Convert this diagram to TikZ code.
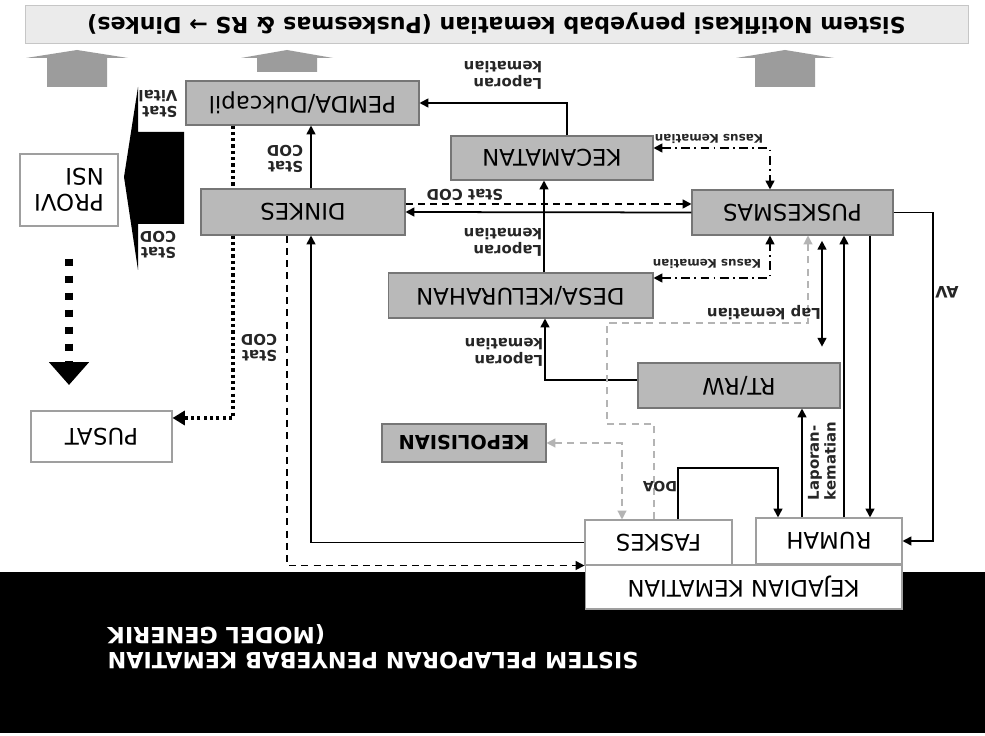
\documentclass[tikz,border=0pt]{standalone}
\usepackage{fontspec}
\setmainfont{DejaVu Sans}
\usetikzlibrary{arrows.meta}
\definecolor{boxfill}{HTML}{B9B9B9}
\definecolor{boxline}{HTML}{767676}
\definecolor{bannerfill}{HTML}{EBEBEB}
\definecolor{blockgray}{HTML}{9C9C9C}
\definecolor{faint}{HTML}{B4B4B4}

\tikzset{
  box/.style={draw=boxline, fill=boxfill, line width=0.6pt, inner sep=0pt,
    font=\fontsize{13}{15}\selectfont},
  wbox/.style={box, fill=white, draw=gray!75},
  lbl/.style={font=\bfseries\fontsize{8.5}{9.5}\selectfont, align=left, inner sep=0pt, text=black!85},
  slbl/.style={lbl, font=\bfseries\fontsize{6.8}{8}\selectfont},
  arr/.style={line width=1pt, ->},
  dashdot/.style={arr, dash pattern=on 5pt off 2.5pt on 1pt off 2.5pt},
  dsh/.style={arr, dash pattern=on 4pt off 3pt},
  faintdsh/.style={line width=0.7pt, draw=faint, dash pattern=on 4pt off 3pt, ->},
  dots/.style={line width=1.8pt, dash pattern=on 1.8pt off 1.8pt},
}

\begin{document}
\begin{tikzpicture}[x=-0.02cm, y=0.02cm, rotate=180, transform shape,
    >={Triangle[length=5pt,width=5pt]}]
  \useasboundingbox (0,0) rectangle (985,736);
  \fill[white] (0,0) rectangle (985,736);
  % banners
  \fill[black] (0,572) rectangle (985,733);
  \node[draw=gray!45, fill=bannerfill, minimum width=18.86cm, minimum height=0.76cm, inner sep=0pt,
        font=\bfseries\fontsize{12.6}{14}\selectfont] (notif) at (496.5,24)
    {Sistem Notifikasi penyebab kematian (Puskesmas \& RS → Dinkes)};
  \node[text=white, align=right, inner sep=0pt, font=\bfseries\fontsize{12.7}{14.5}\selectfont] (title) at (373,647)
    {SISTEM PELAPORAN PENYEBAB KEMATIAN\\(MODEL GENERIK};
  \foreach \ax/\ab/\sw/\hw in {77/87/30/51, 287/72/30/46, 785/87/30/49}
    \fill[blockgray] (\ax-\sw,\ab) -- (\ax-\sw,58) -- (\ax-\hw,58) -- (\ax,50)
      -- (\ax+\hw,58) -- (\ax+\sw,58) -- (\ax+\sw,\ab) -- cycle;

  % boxes
  \node[box, minimum width=4.66cm, minimum height=0.88cm] (pemda) at (302.5,103) {PEMDA/Dukcapil};
  \node[box, minimum width=4.04cm, minimum height=0.88cm] (kec) at (552,158) {KECAMATAN};
  \node[box, minimum width=4.02cm, minimum height=0.9cm] (pusk) at (792.5,212.5) {PUSKESMAS};
  \node[box, minimum width=4.08cm, minimum height=0.92cm] (dinkes) at (303,212) {DINKES};
  \node[box, minimum width=5.3cm, minimum height=0.9cm] (desa) at (520.5,295.5) {DESA/KELURAHAN};
  \node[box, minimum width=4.04cm, minimum height=0.9cm] (rtrw) at (739,385.5) {RT/RW};
  \node[box, minimum width=3.28cm, minimum height=0.76cm, font=\bfseries\fontsize{11}{13}\selectfont] (kepol) at (464,443) {KEPOLISIAN};
  \node[wbox, minimum width=1.96cm, minimum height=1.44cm, align=left] (provi) at (69,190) {PROVI\\NSI};
  \node[wbox, minimum width=2.82cm, minimum height=1.02cm] (pusat) at (101.5,436.5) {PUSAT};
  \node[wbox, minimum width=2.94cm, minimum height=0.9cm] (faskes) at (658.5,542.5) {FASKES};
  \node[wbox, minimum width=2.92cm, minimum height=0.92cm] (rumah) at (829,541) {RUMAH};
  \node[wbox, minimum width=6.34cm, minimum height=0.88cm] (kejadian) at (743.5,587) {KEJADIAN KEMATIAN};

  % flows
  \draw[arr] (567,0 |- kec.south) |- (pemda.west);
  \node[lbl] (lkkec) at (503,75) {Laporan\\kematian};
  \draw[dashdot, <->] (kec.west |- 0,148) -| (770,0 |- pusk.south);
  \node[slbl] (kasuskec) at (709,139) {Kasus Kematian};
  \draw[dsh] (dinkes.west |- 0,204) -- (pusk.east |- 0,204);
  \node[lbl] (statpusk) at (465,195) {Stat COD};
  \draw[arr] (pusk.east) -- (dinkes.west);
  \draw[arr] (544,0 |- desa.south) -- (544,0 |- kec.north);
  \node[lbl] (lkdesa) at (503,242) {Laporan\\kematian};
  \draw[dashdot, <->] (desa.west |- 0,278) -| (770,0 |- pusk.north);
  \node[slbl] (kasusdesa) at (707,264) {Kasus Kematian};
  \draw[arr] (311,0 |- dinkes.south) -- (311,0 |- pemda.north);
  \node[lbl] (statpemda) at (285,159) {Stat\\COD};
  \draw[dots] (233,0 |- pemda.north) -- (233,0 |- dinkes.south);
  \draw[dots, -{Triangle[length=7pt,width=8pt]}] (233,0 |- dinkes.north) |- (pusat.west |- 0,418);
  \node[lbl] (statpusat) at (259,348) {Stat\\COD};
  \draw[dsh] (287,0 |- dinkes.north) |- (faskes.north east);
  \draw[arr] (faskes.east) -| (311,0 |- dinkes.north);
  \draw[line width=4pt, dash pattern=on 4pt off 5.7pt, -{Triangle[length=13pt,width=22pt]}]
    (provi.north) ++(0,32) -- (provi.north |- 0,385);
  \fill[black] (184,132) -- (138,132) -- (138,87) -- (124,177) -- (138,270) -- (138,224) -- (184,224) -- cycle;
  \node[lbl] (statvital) at (158,104) {Stat\\Vital};
  \node[lbl] (statprovi) at (158,245) {Stat\\COD};
  \draw[arr] (rtrw.east |- 0,380) -| (545,0 |- desa.north);
  \node[lbl] (lkrtrw) at (504,352) {Laporan\\kematian};
  \draw[faintdsh] (654,0 |- faskes.south) |- (607,424) |- (808,323) -- (808,0 |- pusk.north);
  \draw[faintdsh, <->] (kepol.west) -| (622,0 |- faskes.south);
  \draw[arr] (678,0 |- faskes.south) |- (778,468) -- (778,0 |- rumah.south);
  \node[lbl, font=\bfseries\fontsize{8}{9}\selectfont] (doa) at (660,487) {DOA};
  \draw[arr] (802,0 |- rumah.south) -- (802,0 |- rtrw.north);
  \node[lbl, rotate=-90] (lkrumah) at (822,461) {Laporan-\\kematian};
  \draw[arr] (844,0 |- rumah.south) -- (844,0 |- pusk.north);
  \draw[arr] (870,0 |- pusk.north) -- (870,0 |- rumah.south);
  \draw[arr, <->, shorten <=3pt, shorten >=9pt] (822,0 |- pusk.north) -- (822,0 |- rtrw.south);
  \node[lbl] (lapkem) at (764,313) {Lap kematian};
  \draw[arr] (pusk.west) -- (933,0 |- pusk.west) |- (rumah.west);
  \node[lbl, font=\bfseries\fontsize{9}{10}\selectfont] (av) at (947,292) {AV};
\end{tikzpicture}
\end{document}
